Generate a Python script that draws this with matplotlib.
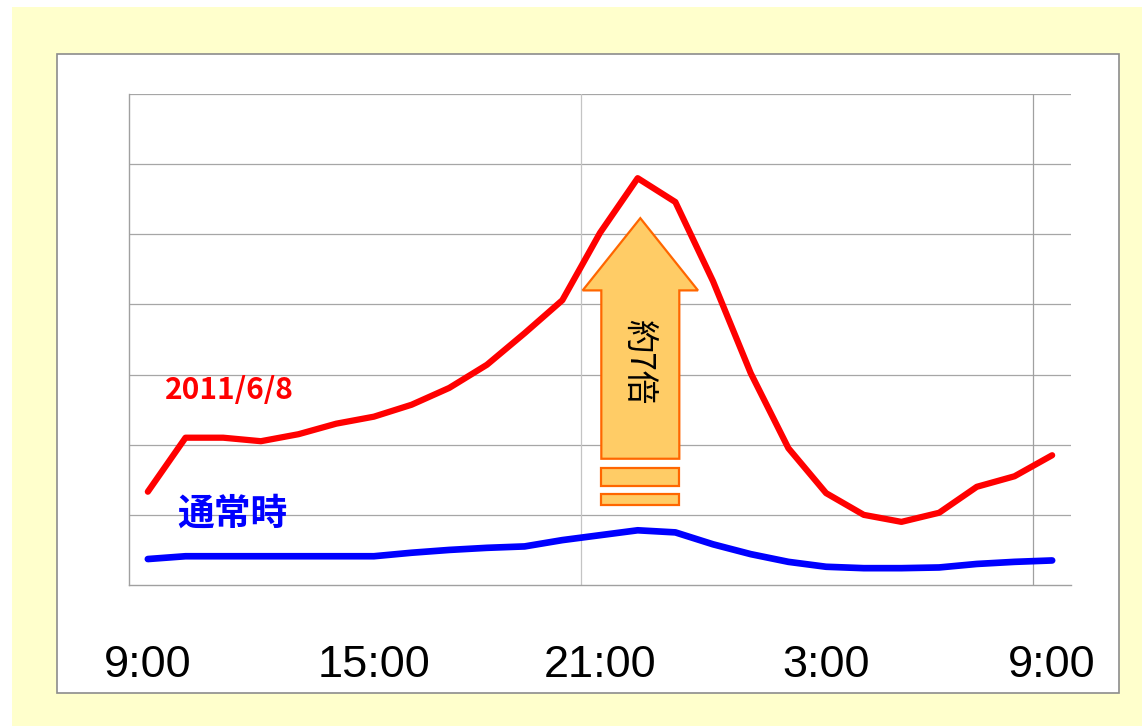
import matplotlib.pyplot as plt
from matplotlib.patches import Rectangle, Polygon
import numpy as np

# 時刻ラベル（1時間ごと、9:00〜翌9:00）
tick_pos = [0, 6, 12, 18, 24]
tick_labels = ['9:00', '15:00', '21:00', '3:00', '9:00']

# 2011/6/8 のトラフィック（相対値）
traffic_0608 = [1.33, 2.10, 2.10, 2.05, 2.15, 2.30, 2.40, 2.57, 2.81, 3.14,
                3.59, 4.06, 5.02, 5.80, 5.46, 4.33, 3.02, 1.95, 1.31, 1.00,
                0.90, 1.03, 1.40, 1.55, 1.85]
# 通常時
traffic_normal = [0.37, 0.41, 0.41, 0.41, 0.41, 0.41, 0.41, 0.46, 0.50, 0.53,
                  0.55, 0.64, 0.71, 0.78, 0.75, 0.58, 0.44, 0.33, 0.26, 0.24,
                  0.24, 0.25, 0.30, 0.33, 0.35]

W, H = 1142, 726
fig = plt.figure(figsize=(W / 100, H / 100), dpi=100)
fig.patch.set_facecolor('white')

# 背景（薄い黄色）と白いパネル
fig.patches.append(Rectangle((12 / W, 0), 1 - 12 / W, 1 - 7 / H, transform=fig.transFigure,
                             facecolor='#FFFFCC', edgecolor='none', zorder=-3))
fig.patches.append(Rectangle((57 / W, (H - 693) / H), (1119 - 57) / W, (693 - 54) / H,
                             transform=fig.transFigure, facecolor='white',
                             edgecolor='#8C8C8C', linewidth=1.2, zorder=-2))

ax = fig.add_axes([129 / W, (H - 585) / H, (1071 - 129) / W, (585 - 94) / H])
ax.set_facecolor('white')
ax.set_xlim(-0.5, 24.5)
ax.set_ylim(0, 7)

x = np.arange(len(traffic_0608))

# グリッド
for yv in range(1, 8):
    ax.axhline(yv, color='#A6A6A6', lw=0.9, zorder=1)
for xv in [11.5, 23.5]:
    ax.axvline(xv, color='#A0A0A0' if xv > 20 else '#C4C4C4', lw=0.9, zorder=1)

ax.plot(x, traffic_0608, color='#FF0000', lw=4.5, solid_capstyle='round',
        solid_joinstyle='round', zorder=4)
ax.plot(x, traffic_normal, color='#0000FF', lw=4.8, solid_capstyle='round',
        solid_joinstyle='round', zorder=4)

# 矢印（約7倍）
fill_c, edge_c = '#FFCC66', '#FF6600'
cx, sw, hw = 13.07, 1.035, 1.53
arrow = Polygon([(cx - sw, 1.80), (cx - sw, 4.20), (cx - hw, 4.20), (cx, 5.23),
                 (cx + hw, 4.20), (cx + sw, 4.20), (cx + sw, 1.80)], closed=True,
                facecolor=fill_c, edgecolor=edge_c, lw=1.6, zorder=3)
ax.add_patch(arrow)
for y0, y1 in [(1.41, 1.67), (1.14, 1.30)]:
    ax.add_patch(Rectangle((cx - sw, y0), 2 * sw, y1 - y0, facecolor=fill_c,
                           edgecolor=edge_c, lw=1.6, zorder=3))
ax.text(cx - 0.05, 3.19, '約7倍', rotation=-90, ha='center', va='center', fontsize=24,
        family=['Noto Sans CJK JP', 'DejaVu Sans'], color='black', zorder=5)

ax.text(0.45, 2.78, '2011/6/8', color='#FF0000', fontsize=21.5, fontweight='bold',
        family=['Noto Sans CJK JP', 'DejaVu Sans'], ha='left', va='center', zorder=5)
ax.text(0.77, 1.01, '通常時', color='#0000FF', fontsize=26.5, fontweight='bold',
        family=['Noto Sans CJK JP', 'DejaVu Sans'], ha='left', va='center', zorder=5)

# 軸
for s in ['top', 'right']:
    ax.spines[s].set_visible(False)
for s in ['left', 'bottom']:
    ax.spines[s].set_color('#A0A0A0')
    ax.spines[s].set_linewidth(1.0)
ax.set_yticks([])
ax.set_xticks(tick_pos)
ax.set_xticklabels(tick_labels, fontsize=32.5, family='Liberation Sans')
ax.tick_params(axis='x', length=0, pad=43)

fig.savefig('out.png', dpi=100)
